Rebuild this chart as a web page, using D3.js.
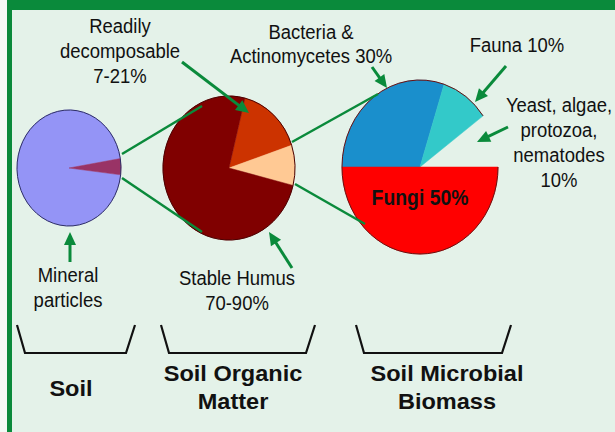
<!DOCTYPE html>
<html>
<head>
<meta charset="utf-8">
<script src="https://cdn.jsdelivr.net/npm/d3@7"></script>
<style>
body { margin: 0; background: #fff; }
svg { display: block; }
</style>
</head>
<body>
<div id="chart"></div>
<script>
// values (percent)
var soilNames = ["Mineral particles", "Soil organic matter"];
var soilValues = [95.5, 4.5];

var somNames = ["Readily decomposable", "Soil microbial biomass", "Stable humus"];
var somValues = [16, 9, 75];

var microbeNames = ["Bacteria & Actinomycetes", "Fauna", "Yeast, algae, protozoa, nematodes", "Fungi"];
var microbeValues = [30, 10, 10, 50];

var groupLabels = [["Soil"], ["Soil Organic", "Matter"], ["Soil Microbial", "Biomass"]];

var width = 615, height = 432;
var green = "#0a8a3b";

// use the narrow face if the machine has it, otherwise squeeze the regular one
var ctx = document.createElement("canvas").getContext("2d");
ctx.font = "20px 'Liberation Sans Narrow', monospace";
var wNarrow = ctx.measureText("decomposable").width;
ctx.font = "20px monospace";
var hasNarrow = Math.abs(wNarrow - ctx.measureText("decomposable").width) > 1;
var narrowFace = hasNarrow ? "'Liberation Sans Narrow'" : "'Liberation Sans'";
var squeeze = hasNarrow ? 1.07 : 0.88;

var svg = d3.select("#chart").append("svg")
    .attr("width", width)
    .attr("height", height);

// frame
svg.append("rect").attr("width", width).attr("height", height).attr("fill", "#f4faf6");
svg.append("rect").attr("x", 12).attr("y", 10).attr("width", width - 12).attr("height", height - 10).attr("fill", "#e4f2e9");
svg.append("rect").attr("x", 7).attr("y", 0).attr("width", width - 7).attr("height", 10).attr("fill", green);
svg.append("rect").attr("x", 7).attr("y", 0).attr("width", 5).attr("height", height).attr("fill", green);

// pie layout: ellipses, start angle in degrees (clockwise from 12 o'clock)
var pies = [
    {names: soilNames, values: soilValues, cx: 69, cy: 168, rx: 52, ry: 58, start: 96.8,
     colors: ["#9494f6", "#993366"], edge: "#2e2e66", hidden: []},
    {names: somNames, values: somValues, cx: 229, cy: 168, rx: 66, ry: 72, start: 14,
     colors: ["#cc3300", "#ffc994", "#800000"], edge: "#4a0000", hidden: []},
    {names: microbeNames, values: microbeValues, cx: 420, cy: 167, rx: 78, ry: 87, start: 270,
     colors: ["#1a8fcc", "#33c9c9", "none", "#ff0000"], edge: "#6a1010", hidden: [2]}
];

var rad = function(d) { return d * Math.PI / 180; };
var arc = d3.arc().innerRadius(0).outerRadius(1);

pies.forEach(function(p) {
    var pie = d3.pie().sort(null)
        .startAngle(rad(p.start))
        .endAngle(rad(p.start + 360));
    var slices = pie(p.values);
    var g = svg.append("g")
        .attr("transform", "translate(" + p.cx + "," + p.cy + ") scale(" + p.rx + "," + p.ry + ")");

    g.selectAll("path.slice")
        .data(slices)
        .enter().append("path")
        .attr("class", "slice")
        .attr("d", arc)
        .attr("fill", function(d, i) { return p.colors[i]; })
        .attr("stroke", function(d, i) { return p.colors[i]; })
        .attr("stroke-width", 0.5)
        .attr("vector-effect", "non-scaling-stroke");

    // outer rim only, skipping hidden slices
    g.selectAll("path.rim")
        .data(slices.filter(function(d, i) { return p.hidden.indexOf(i) < 0; }))
        .enter().append("path")
        .attr("class", "rim")
        .attr("d", function(d) {
            var path = d3.path();
            path.arc(0, 0, 1, d.startAngle - Math.PI / 2, d.endAngle - Math.PI / 2);
            return path.toString();
        })
        .attr("fill", "none")
        .attr("stroke", p.edge)
        .attr("stroke-width", 1)
        .attr("vector-effect", "non-scaling-stroke");

    p.slices = slices;
});

// "Fungi 50%" inside its slice
var mp = pies[2];
var fungi = mp.slices[3];
var c = d3.arc().innerRadius(0).outerRadius(0.7).centroid(fungi);
svg.append("text")
    .attr("transform", "translate(" + (mp.cx + c[0] * mp.rx) + "," + (mp.cy + c[1] * mp.ry) + ") scale(" + squeeze + ",1)")
    .attr("text-anchor", "middle")
    .attr("dy", "0.36em")
    .style("font", "bold 22px " + narrowFace + ", Arial, sans-serif")
    .attr("fill", "#111")
    .text(mp.names[3] + " " + mp.values[3] + "%");

// connector lines between pies
var connectors = [
    [[122, 154], [202, 106]],
    [[122, 178], [202, 232]],
    [[292, 142], [378, 94]],
    [[295, 184], [365, 224]]
];
svg.selectAll("line.conn")
    .data(connectors)
    .enter().append("line")
    .attr("class", "conn")
    .attr("x1", function(d) { return d[0][0]; })
    .attr("y1", function(d) { return d[0][1]; })
    .attr("x2", function(d) { return d[1][0]; })
    .attr("y2", function(d) { return d[1][1]; })
    .attr("stroke", green)
    .attr("stroke-width", 2.5);

// callout arrows: tail -> tip
var arrows = [
    [[70, 262], [70, 232]],
    [[292, 268], [269, 232]],
    [[182, 62], [249, 113]],
    [[372, 67], [387, 88]],
    [[506, 66], [475, 102]],
    [[508, 127], [477, 142]]
];
arrows.forEach(function(a) {
    var x0 = a[0][0], y0 = a[0][1], x1 = a[1][0], y1 = a[1][1];
    var len = Math.hypot(x1 - x0, y1 - y0);
    var ux = (x1 - x0) / len, uy = (y1 - y0) / len;
    var hl = 13, hw = 6;
    var bx = x1 - ux * hl, by = y1 - uy * hl;
    svg.append("line")
        .attr("x1", x0).attr("y1", y0).attr("x2", bx + ux * 2).attr("y2", by + uy * 2)
        .attr("stroke", green).attr("stroke-width", 3);
    svg.append("path")
        .attr("d", d3.line()([[x1, y1], [bx - uy * hw, by + ux * hw], [bx + uy * hw, by - ux * hw]]) + "Z")
        .attr("fill", green);
});

// text labels
function label(lines, x, y, lh, font, sx) {
    var t = svg.append("text")
        .attr("transform", "translate(" + x + "," + y + ") scale(" + sx + ",1)")
        .attr("text-anchor", "middle")
        .attr("fill", "#111")
        .style("font", font);
    lines.forEach(function(l, i) {
        t.append("tspan").attr("x", 0).attr("y", i * lh).text(l);
    });
}
var thin = "21px " + narrowFace + ", Arial, sans-serif";
label(["Readily", "decomposable", "7-21%"], 120, 33, 25, thin, squeeze);
label(["Bacteria &", "Actinomycetes " + microbeValues[0] + "%"], 311, 39, 24, thin, squeeze);
label([microbeNames[1] + " " + microbeValues[1] + "%"], 517, 52, 24, thin, squeeze);
label(["Yeast, algae,", "protozoa,", "nematodes", microbeValues[2] + "%"], 559, 112, 25, thin, squeeze);
label(["Mineral", "particles"], 68, 282, 25, thin, squeeze);
label(["Stable Humus", "70-90%"], 237, 285, 25, thin, squeeze);

// brackets under each pie with group names
var brackets = [
    {x0: 17, x1: 135, label: groupLabels[0], lx: 71, ly: 396},
    {x0: 161, x1: 315, label: groupLabels[1], lx: 233, ly: 381},
    {x0: 356, x1: 511, label: groupLabels[2], lx: 447, ly: 381}
];
brackets.forEach(function(b) {
    svg.append("path")
        .attr("d", d3.line()([[b.x0, 325], [b.x0 + 8, 353], [b.x1 - 9, 353], [b.x1, 325]]))
        .attr("fill", "none")
        .attr("stroke", "#111")
        .attr("stroke-width", 2.2);
    label(b.label, b.lx, b.ly, 28.5, "bold 22px 'Liberation Sans', Arial, sans-serif", 1.07);
});
</script>
</body>
</html>
